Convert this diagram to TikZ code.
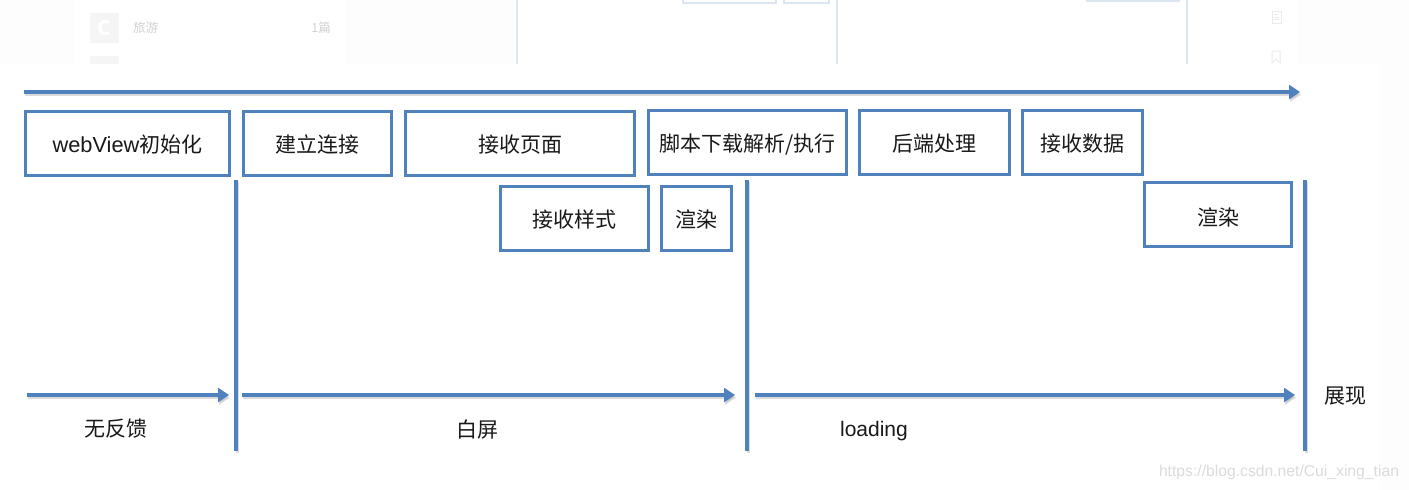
\documentclass[tikz,border=0pt]{standalone}
\usepackage{fontspec}
\setmainfont{Noto Sans CJK SC}
\newfontfamily\latn{Liberation Sans}
\usetikzlibrary{arrows.meta}
\definecolor{bl}{HTML}{4F81BD}
\definecolor{fa}{HTML}{DCE6F2}
\definecolor{bgg}{HTML}{FDFDFD}
\tikzset{x=1pt,y=-1pt,
 stagebox/.style={draw=bl,line width=3pt,fill=white,inner sep=0pt,font=\fontsize{21}{25}\selectfont,text=black!90},
 lab/.style={font=\fontsize{21}{25}\selectfont,text=black!90,inner sep=0pt},
 shad/.style={draw=black!35,line width=3pt,opacity=.4},
 arr/.style={draw=bl,line width=3.2pt,-{Triangle[length=11pt,width=14pt]}},
 shadarr/.style={draw=black!35,line width=3pt,opacity=.4,-{Triangle[length=11pt,width=14pt]}},
 bar/.style={draw=bl,line width=3.5pt},
 faint/.style={font=\fontsize{12.5}{15}\selectfont,text=black!18,inner sep=0pt},
 fline/.style={draw=fa,line width=2pt}}
% x1 y1 x2 y2 name vertical-text-offset text
\newcommand{\stage}[7]{\node[stagebox,minimum width=#3pt-#1pt-3pt,minimum height=#4pt-#2pt-3pt] (#5) at ({(#1+#3)/2},{(#2+#4)/2}) {\raisebox{\dimexpr-8.1pt-#6pt\relax}[0pt][0pt]{#7}};}
\begin{document}
\begin{tikzpicture}
\useasboundingbox (0,0) rectangle (1409,490);
\fill[white] (0,0) rectangle (1409,490);
% faded page behind the screenshot
\fill[bgg] (0,0) rectangle (75,64);
\fill[bgg] (345,0) rectangle (515,64);
\fill[bgg] (1297,0) rectangle (1409,64);
\fill[bgg] (1380,64) rectangle (1409,490);
\fill[black!4] (90,13) rectangle (119,43);
\node[font=\bfseries\fontsize{20}{20}\selectfont,text=white,inner sep=0pt] (cicon) at (104,28) {C};
\fill[black!4] (90,56) rectangle (119,64);
\node[faint,anchor=west] (travel) at (133,28) {旅游};
\node[faint,anchor=east] (count) at (331,28) {1篇};
\draw[fline] (517,0) -- (517,64);
\draw[fline] (837,0) -- (837,64);
\draw[fline] (1187,0) -- (1187,64);
\draw[fline] (683,-1) rectangle (776,3);
\draw[fline] (784,-1) rectangle (829,3);
\fill[fa] (1086,0) rectangle (1180,2);
\draw[black!8,line width=1pt] (1272,11) rectangle (1281,23);
\draw[black!8,line width=1pt] (1274,14.5) -- (1279,14.5) (1274,17) -- (1279,17) (1274,19.5) -- (1279,19.5);
\draw[black!8,line width=1pt] (1272,51) -- (1272,63) -- (1276,59) -- (1280,63) -- (1280,51) -- cycle;
% time axis
\coordinate (axs) at (24,92);
\coordinate (axe) at (1300,92);
\draw[shadarr] ([shift={(1,2.5)}]axs) -- ([shift={(1,2.5)}]axe);
\draw[arr] (axs) -- (axe);
% stages
\stage{24}{110}{231}{177}{init}{0.5}{{\latn\fontsize{21.8}{25}\selectfont webView}初始化}
\stage{242}{110}{393}{177}{conn}{0.5}{建立连接}
\stage{404}{110}{636}{177}{page}{0.5}{接收页面}
\stage{647}{109}{848}{176}{script}{1}{脚本下载解析/执行}
\stage{858}{109}{1011}{176}{back}{1}{后端处理}
\stage{1021}{109}{1144}{176}{data}{1}{接收数据}
\stage{499}{185}{650}{252}{style}{0.5}{接收样式}
\stage{660}{185}{733}{252}{rendera}{1}{渲染}
\stage{1143}{181}{1293}{248}{renderb}{2.5}{渲染}
% milestones
\foreach \n/\x in {ma/236,mb/747,mc/1305}{
  \coordinate (\n t) at (\x,180);
  \coordinate (\n b) at (\x,451);
  \draw[shad] ([shift={(1.5,1.5)}]\n t) -- ([shift={(1.5,1.5)}]\n b);
  \draw[bar] (\n t) -- (\n b);
}
% phases
\coordinate (pas) at (27,395); \coordinate (pae) at (229,395);
\coordinate (pbs) at (242,395); \coordinate (pbe) at (735,395);
\coordinate (pcs) at (755,395); \coordinate (pce) at (1295,395);
\foreach \a/\b in {pas/pae,pbs/pbe,pcs/pce}{
  \draw[shadarr] ([shift={(1,2.5)}]\a) -- ([shift={(1,2.5)}]\b);
  \draw[arr] (\a) -- (\b);
}
\node[lab] (l1) at (116,429) {无反馈};
\node[lab] (l2) at (477,429) {白屏};
\node[lab] (l3) at (874,431) {\latn loading};
\node[lab] (l4) at (1345,396) {展现};
\node[font=\latn\fontsize{15.7}{18}\selectfont,text=black!14,inner sep=0pt] (wm) at (1279,472) {https://blog.csdn.net/Cui\_xing\_tian};
\end{tikzpicture}
\end{document}
